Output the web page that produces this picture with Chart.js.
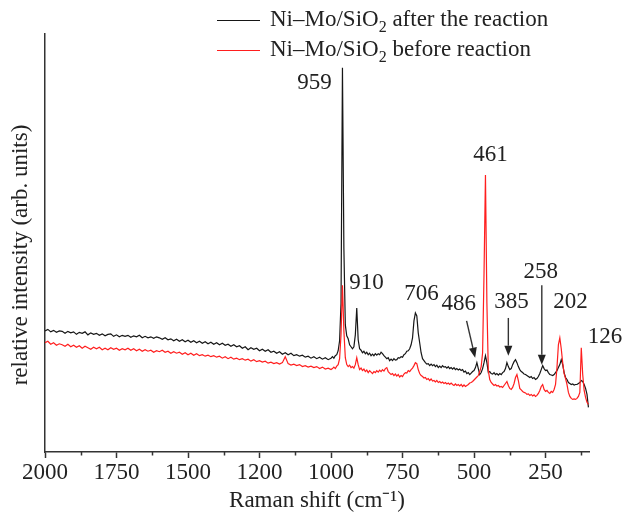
<!DOCTYPE html>
<html>
<head>
<meta charset="utf-8">
<script src="https://cdn.jsdelivr.net/npm/chart.js@4.4.1/dist/chart.umd.min.js"></script>
<style>
  html, body { margin: 0; padding: 0; background: #fff; }
  #wrap { width: 622px; height: 516px; }
</style>
</head>
<body>
<div id="wrap"><canvas id="raman"></canvas></div>
<script>
// Raman-Spektren Ni-Mo/SiO2 vor / nach der Reaktion

var seriesNames = ['Ni–Mo/SiO₂ after the reaction', 'Ni–Mo/SiO₂ before reaction'];

// Raman shift (cm-1), dicht im Bereich der Banden
var shift = [
  2000,1990,1980,1970,1960,1950,1940,1930,1920,1910,
  1900,1890,1880,1870,1860,1850,1840,1830,1820,1810,
  1800,1790,1780,1770,1760,1750,1740,1730,1720,1710,
  1700,1690,1680,1670,1660,1650,1640,1630,1620,1610,
  1600,1590,1580,1570,1560,1550,1540,1530,1520,1510,
  1500,1490,1480,1470,1460,1450,1440,1430,1420,1410,
  1400,1390,1380,1370,1360,1350,1340,1330,1320,1310,
  1300,1290,1280,1270,1260,1250,1240,1230,1220,1210,
  1200,1190,1180,1170,1160,1150,1140,1130,1120,1110,
  1100,1090,1080,1070,1060,1050,1040,1030,1020,1010,
  1000,
  995,990,985,980,975,970,965,960,955,950,
  945,940,935,930,925,920,915,910,905,900,
  895,890,885,880,875,870,865,860,855,850,
  845,840,835,830,825,820,815,810,805,800,
  795,790,785,780,775,770,765,760,755,750,
  745,740,735,730,725,720,715,710,705,700,
  695,690,685,680,675,670,665,660,655,650,
  645,640,635,630,625,620,615,610,605,600,
  595,590,585,580,575,570,565,560,555,550,
  545,540,535,530,525,520,515,510,505,500,
  495,490,485,480,475,470,465,460,455,450,
  445,440,435,430,425,420,415,410,405,400,
  395,390,385,380,375,370,365,360,355,350,
  345,340,335,330,325,320,315,310,305,300,
  295,290,285,280,275,270,265,260,255,250,
  245,240,235,230,225,220,215,210,205,200,
  195,190,185,180,175,170,165,160,155,150,
  145,140,135,130,125,120,115,110,105,100
];

// nach der Reaktion (schwarz), willk. Einheiten
var afterReaction = [
  122,123.5,121,122.5,120.5,122,121.5,119.5,121.5,120,
  121,118.5,120.5,119.5,121,118,120,118.5,119.5,117.5,
  119,117,118.5,119,116.5,118,116,117.5,116.5,117.5,
  115.5,117,116,117.5,115,116.5,115,116,114.5,116,
  115,113.5,115,113,114,112,113.5,111.5,113,111,
  112.5,110.5,112,110,111.5,109.5,111,109,110.5,108.5,
  110,108,109.5,107.5,108.5,106.5,108,106,107,104.5,
  106,103,105,103.5,104.5,102,103.5,101.5,103,100.5,
  101.5,99.5,101,98.5,100,98,99.5,97,98,96.5,
  97.5,95.5,96.5,94.5,96,94,95.5,93.5,95,93,
  94.5,
  96,94.5,97,98,102,112,150,387,205,128,
  117,114,108,106,104,106,118,145,113,104,
  102.5,100,101.5,99,100.5,98,99.5,97,98.5,97,
  99,97.5,99,98,100.5,99,97,95.5,94,95,
  92,93.5,92,94,92.5,93,95,94.5,96,95.5,
  98,99,101.5,102,104,108,115,132,140,137,
  120,110,100,94,92,90,88.5,89,87,88.5,
  87,88,86,87.5,85,86.5,85,87,85.5,86,
  84.5,86,84,85,83.5,85,83,84,82.5,83.5,
  82,83,80.5,81.5,79,80,78,79.5,81,82,
  85,90,84,78,80,84,90,97,90,80,
  81,79,78.5,80,78,79,77.5,79,78,80,
  81,84,90,86,83,84,88,91,93,90,
  86,83,81,80,78.5,78,77,76,75,76,
  74,75,73,74,76,79,83,87,84,82,
  82.5,80,78,77.5,77,78,80,82,85,88,
  93,88,80,75,73,70,69,68,68.5,67.5,
  68,68,69,70,72,71,68,64,58,45
];

// vor der Reaktion (rot)
var beforeReaction = [
  110,111.5,108.5,110,107.5,109,108,106.5,108.5,106,
  107.5,105.5,107,104.5,106.5,105,103.5,105.5,104,105.5,
  103,104.5,103,105,103.5,104.5,102.5,104,103,104.5,
  102.5,104,102,103.5,101.5,103,101.5,102.5,100.5,102,
  101,102.5,100.5,101.5,99.5,101,99.5,100.5,98.5,100,
  98,99.5,97.5,99,97,98,96.5,97.5,96,97,
  95.5,96.5,94.5,96,94,95.5,93.5,94.5,93,94,
  92.5,93.5,91.5,93,91,92,90.5,91.5,89.5,90.5,
  89,90,88.5,90,96,89,87.5,88.5,87,88,
  86,87,85.5,86.5,85,86,84,85.5,83.5,84.5,
  83,
  84,85.5,84,86.5,88,94,118,168,122,95,
  88,86,87.5,85,86,84.5,88,95,88,83,
  84.5,82,83.5,81,82.5,80,82,80.5,79,81,
  80,82,80.5,82.5,81,83,81.5,84,85,81,
  79.5,78,79,77,78.5,76.5,78,75.5,77,76,
  78.5,80,79.5,82,81,83,84.5,87,90,89,
  83,79,77,76,74.5,75,73,74,72,73.5,
  71.5,72,70.5,72,70,71,69.5,70.5,69,70,
  68.5,69.5,68,69.5,68,67,68.5,67,68,66.5,
  68,66,67.5,66,67,68,69.5,70,71,72.5,
  74,75.5,77,81,86,100,180,279,150,82,
  73,70,68.5,67,68,66.5,67,65.5,66,65,
  67,69,71,67,64,63,65,69,75,78,
  72,64,62.5,61,60,59.5,58,58.5,57,58,
  56.5,57.5,56,57,59,62,66,68,63,61,
  62,60,59,61,60,63,68,85,108,115,
  104,90,79,74,68,60,56,54,53,53.5,
  53,54,56,60,105,78,62,55,50,48
];

// Achsenbeschriftung (Original zeigt "1200" bei 1250)
var tickValues = [2000, 1750, 1500, 1250, 1000, 750, 500, 250];
var tickLabels = ['2000', '1750', '1500', '1200', '1000', '750', '500', '250'];
var minorTicks = [1875, 1625, 1375, 1125, 875, 625, 375, 125];

// Bandenbeschriftungen in Datenkoordinaten
var peakNotes = [
  { text: '959', x: 1058, y: 371.5 },
  { text: '910', x: 876, y: 170 },
  { text: '706', x: 684, y: 159 },
  { text: '486', x: 553, y: 149.5 },
  { text: '461', x: 442, y: 299.5 },
  { text: '385', x: 369, y: 151 },
  { text: '258', x: 267, y: 181 },
  { text: '202', x: 163, y: 151 },
  { text: '126', x: 42, y: 115.5 }
];
var peakArrows = [
  { x0: 526, y0: 132, x1: 496, y1: 95 },
  { x0: 380, y0: 135, x1: 380, y1: 97 },
  { x0: 263, y0: 168, x1: 263, y1: 88 }
];

var FONT = "'Liberation Serif', 'Times New Roman', serif";
var INK = '#222';
var colors = ['#161616', '#ff1e1e'];

function toPoints(ys) {
  return shift.map(function(x, i) { return { x: x, y: ys[i] }; });
}

// Text mit tiefgestellter "2"
function drawSubText(ctx, str, x, y, size) {
  var parts = str.split('₂');
  parts.forEach(function(p, i) {
    ctx.font = size + 'px ' + FONT;
    ctx.fillText(p, x, y);
    x += ctx.measureText(p).width;
    if (i < parts.length - 1) {
      ctx.font = Math.round(size * 0.68) + 'px ' + FONT;
      ctx.fillText('2', x, y + 6);
      x += ctx.measureText('2').width;
    }
  });
}

var decor = {
  id: 'decor',
  afterDraw: function(chart) {
    var ctx = chart.ctx;
    var xs = chart.scales.x, ys = chart.scales.y;
    var area = chart.chartArea;
    ctx.save();

    // Nebenstriche
    ctx.strokeStyle = '#333';
    ctx.lineWidth = 1.5;
    minorTicks.forEach(function(v) {
      var px = Math.round(xs.getPixelForValue(v)) + 0.5;
      ctx.beginPath();
      ctx.moveTo(px, area.bottom);
      ctx.lineTo(px, area.bottom + 3.5);
      ctx.stroke();
    });

    // Bandenwerte
    ctx.fillStyle = INK;
    ctx.font = '23px ' + FONT;
    ctx.textAlign = 'center';
    ctx.textBaseline = 'middle';
    peakNotes.forEach(function(n) {
      ctx.fillText(n.text, xs.getPixelForValue(n.x), ys.getPixelForValue(n.y));
    });

    // Pfeile
    ctx.strokeStyle = '#333';
    ctx.fillStyle = '#222';
    ctx.lineWidth = 1.4;
    peakArrows.forEach(function(a) {
      var x0 = xs.getPixelForValue(a.x0), y0 = ys.getPixelForValue(a.y0);
      var x1 = xs.getPixelForValue(a.x1), y1 = ys.getPixelForValue(a.y1);
      var ang = Math.atan2(y1 - y0, x1 - x0);
      var hl = 10, hw = 4;
      var bx = x1 - hl * Math.cos(ang), by = y1 - hl * Math.sin(ang);
      ctx.beginPath();
      ctx.moveTo(x0, y0);
      ctx.lineTo(bx, by);
      ctx.stroke();
      ctx.beginPath();
      ctx.moveTo(x1, y1);
      ctx.lineTo(bx + hw * Math.sin(ang), by - hw * Math.cos(ang));
      ctx.lineTo(bx - hw * Math.sin(ang), by + hw * Math.cos(ang));
      ctx.closePath();
      ctx.fill();
    });

    // Legende
    ctx.textAlign = 'left';
    ctx.textBaseline = 'alphabetic';
    seriesNames.forEach(function(name, i) {
      var ly = 20 + i * 30;
      ctx.strokeStyle = colors[i];
      ctx.lineWidth = 1.2;
      ctx.beginPath();
      ctx.moveTo(217, ly + 0.5);
      ctx.lineTo(260, ly + 0.5);
      ctx.stroke();
      ctx.fillStyle = INK;
      drawSubText(ctx, name, 270, ly + 5.5, 23);
    });

    // y-Achsentitel
    ctx.translate(21, 255);
    ctx.rotate(-Math.PI / 2);
    ctx.textAlign = 'center';
    ctx.textBaseline = 'middle';
    ctx.font = '23px ' + FONT;
    ctx.fillStyle = INK;
    ctx.fillText('relative intensity (arb. units)', 0, 0);

    ctx.restore();
  }
};

new Chart(document.getElementById('raman'), {
  type: 'line',
  data: {
    datasets: [
      {
        label: seriesNames[0],
        data: toPoints(afterReaction),
        borderColor: colors[0],
        borderWidth: 1.2,
        pointRadius: 0,
        tension: 0,
        order: 1
      },
      {
        label: seriesNames[1],
        data: toPoints(beforeReaction),
        borderColor: colors[1],
        borderWidth: 1.2,
        pointRadius: 0,
        tension: 0,
        order: 0
      }
    ]
  },
  options: {
    responsive: true,
    maintainAspectRatio: false,
    animation: false,
    devicePixelRatio: 1,
    layout: { padding: { top: 34, right: 33, left: 45, bottom: 0 } },
    plugins: {
      legend: { display: false },
      tooltip: { enabled: false }
    },
    scales: {
      x: {
        type: 'linear',
        reverse: true,
        min: 98,
        max: 2000,
        afterBuildTicks: function(axis) {
          axis.ticks = tickValues.map(function(v) { return { value: v }; });
        },
        ticks: {
          color: INK,
          padding: 3,
          maxRotation: 0,
          font: { family: FONT, size: 23, lineHeight: 1 },
          callback: function(v) {
            var i = tickValues.indexOf(v);
            return i >= 0 ? tickLabels[i] : '';
          }
        },
        grid: {
          drawOnChartArea: false,
          drawTicks: true,
          tickLength: 6,
          tickColor: '#333',
          tickWidth: 1.5
        },
        border: { display: true, color: '#333', width: 1.5 },
        title: {
          display: true,
          text: 'Raman shift (cm⁻¹)',
          color: INK,
          padding: { top: 2, bottom: 4 },
          font: { family: FONT, size: 23, lineHeight: 1 }
        }
      },
      y: {
        min: 0,
        max: 421,
        ticks: { display: false },
        grid: { display: false, drawTicks: false },
        border: { display: true, color: '#333', width: 1.5 }
      }
    }
  },
  plugins: [decor]
});
</script>
</body>
</html>
